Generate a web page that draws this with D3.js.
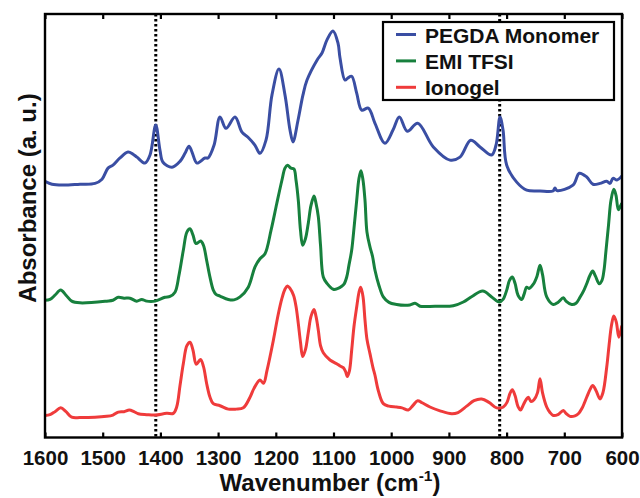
<!DOCTYPE html>
<html>
<head>
<meta charset="utf-8">
<script src="https://cdn.jsdelivr.net/npm/d3@7"></script>
<style>
  html, body { margin: 0; padding: 0; background: #fff; }
  svg { display: block; font-family: "Liberation Sans", Arial, sans-serif; }
</style>
</head>
<body>
<svg id="chart" width="640" height="498"></svg>
<script>
// FTIR spectra, stacked: [wavenumber (cm^-1), absorbance (a.u., offset included)]
const pegdaMonomer = [
  [1600,60.5],[1587.9,59.8],[1568.8,59.6],[1539.3,59.8],[1513.3,60.0],[1501.2,61.0],[1490.8,63.6],
  [1482.2,64.3],[1470.0,66.0],[1456.2,67.4],[1447.5,66.9],[1440.6,66.2],[1426.7,64.8],[1418.0,66.7],
  [1408.1,73.8],[1400.7,67.8],[1395.5,65.0],[1379.9,63.8],[1366.0,65.2],[1357.4,67.1],[1350.4,68.8],
  [1345.2,67.4],[1336.6,64.8],[1322.7,66.0],[1317.5,66.0],[1307.1,69.0],[1296.7,75.7],[1286.3,73.0],
  [1270.7,75.7],[1258.6,72.1],[1248.2,70.9],[1236.0,69.0],[1227.4,67.1],[1217.0,70.2],[1206.6,80.9],
  [1194.5,87.0],[1184.1,80.9],[1175.4,72.6],[1170.2,69.8],[1161.5,74.9],[1152.9,80.9],[1145.9,84.4],
  [1128.6,89.1],[1119.9,90.8],[1111.3,93.9],[1100.9,96.0],[1092.2,93.1],[1088.7,89.6],[1080.1,84.4],
  [1074.9,84.9],[1068.5,85.3],[1059.8,81.3],[1051.1,77.3],[1039.7,77.8],[1028.1,74.2],[1010.8,69.5],
  [996.9,72.6],[985.9,75.7],[972.1,72.3],[954.1,74.2],[927.0,68.6],[898.1,65.5],[880.8,66.2],
  [862.2,70.2],[846.1,68.6],[825.9,66.7],[818.4,69.0],[811.4,75.7],[806.2,72.6],[799.8,64.3],
  [782.5,60.3],[765.2,58.4],[742.1,58.2],[719.6,58.2],[716.1,58.9],[712.7,58.3],[685.0,59.6],
  [674.0,62.4],[661.2,61.5],[650.3,59.8],[638.1,60.0],[626.5,60.5],[620.8,60.0],[615.6,61.2],
  [608.7,60.8],[600.6,61.7]
];

const emiTfsi = [
  [1600,32.4],[1591.3,32.6],[1582.7,33.6],[1572.8,34.8],[1563.6,33.6],[1553.7,32.2],[1539.3,31.8],
  [1493.1,32.2],[1482.2,32.4],[1473.0,33.1],[1463.1,32.9],[1452.7,32.9],[1441.1,32.2],[1432.4,32.6],
  [1423.7,32.2],[1409.4,32.2],[1392.0,33.1],[1383.4,33.3],[1374.7,34.3],[1367.8,38.3],[1360.3,44.2],
  [1354.1,48.5],[1348.7,49.3],[1343.5,47.8],[1338.3,45.8],[1330.2,46.4],[1325.4,45.4],[1319.8,41.8],
  [1314.0,37.8],[1308.3,34.8],[1303.6,33.8],[1296.7,33.4],[1282.3,32.6],[1272.4,32.5],[1262.0,33.2],
  [1247.7,35.5],[1236.0,40.3],[1227.4,42.2],[1218.7,43.4],[1208.3,48.9],[1198.4,55.2],[1189.3,60.8],
  [1184.1,63.6],[1179.7,64.3],[1173.7,63.6],[1168.5,63.4],[1165.0,60.8],[1161.0,56.0],[1157.2,48.9],
  [1153.4,45.4],[1148.5,47.0],[1143.7,50.6],[1139.0,54.8],[1133.8,57.0],[1130.3,55.3],[1126.3,52.1],
  [1122.5,45.4],[1117.7,37.9],[1111.3,36.4],[1100.3,35.0],[1092.2,35.2],[1085.8,35.7],[1081.8,36.2],
  [1077.1,37.9],[1073.2,40.7],[1068.5,44.2],[1064.5,49.4],[1059.8,56.0],[1055.8,61.2],[1052.4,63.0],
  [1048.9,60.8],[1045.4,56.0],[1042.0,48.5],[1036.8,45.0],[1032.4,42.8],[1028.1,39.5],[1021.2,35.9],
  [1013.7,33.2],[1003.8,31.9],[990.5,31.4],[976.1,31.2],[967.6,31.3],[958.7,31.7],[953.5,31.3],
  [950.1,31.0],[924.1,31.0],[892.4,31.1],[875.0,32.0],[860.0,33.3],[841.4,34.6],[825.9,33.2],
  [812.6,32.0],[806.2,32.6],[799.8,34.8],[795.0,37.1],[790.1,37.9],[785.4,36.4],[780.2,33.6],
  [773.8,32.6],[769.8,33.8],[765.2,35.5],[761.2,35.2],[753.7,36.2],[747.3,38.1],[742.1,40.7],
  [737.8,38.5],[730.5,33.2],[719.1,31.4],[711.1,31.9],[701.7,33.0],[697.1,32.2],[687.2,31.4],
  [679.7,31.7],[672.8,33.1],[665.9,34.8],[661.2,36.3],[655.5,38.3],[650.8,39.3],[646.0,38.1],
  [639.4,36.3],[634.7,37.1],[631.2,39.5],[627.7,44.2],[623.4,50.1],[619.1,56.0],[614.2,58.6],
  [610.4,57.2],[606.4,53.8],[603.5,54.4],[600.6,55.2]
];

const ionogel = [
  [1600,5.2],[1591.3,5.4],[1582.7,6.1],[1572.8,7.0],[1563.6,6.1],[1553.7,4.8],[1539.3,4.7],
  [1493.1,5.0],[1482.2,5.3],[1473.0,6.0],[1463.1,6.1],[1453.9,6.5],[1445.8,6.1],[1438.3,5.6],
  [1423.7,5.4],[1409.4,5.3],[1389.1,5.7],[1377.6,5.7],[1371.8,7.2],[1366.0,12.3],[1360.3,17.4],
  [1354.1,21.7],[1348.7,22.5],[1343.5,20.6],[1337.8,17.3],[1330.5,18.4],[1325.4,16.8],[1319.8,12.7],
  [1314.0,9.5],[1308.3,8.0],[1296.7,7.5],[1282.3,6.7],[1269.0,6.7],[1256.3,7.0],[1244.7,9.5],
  [1237.8,11.6],[1227.4,13.6],[1221.3,12.8],[1215.3,15.8],[1204.3,22.9],[1196.2,28.8],[1189.3,32.9],
  [1184.1,35.0],[1179.9,35.8],[1175.4,35.2],[1169.3,33.6],[1165.0,31.0],[1161.0,26.9],[1157.2,22.5],
  [1153.4,19.1],[1148.5,20.8],[1143.7,24.8],[1139.0,28.6],[1133.8,30.2],[1130.3,28.6],[1126.3,25.3],
  [1122.5,21.7],[1117.7,20.0],[1106.1,18.3],[1094.5,17.4],[1088.7,16.9],[1083.0,16.5],[1079.2,15.6],
  [1076.1,14.4],[1072.3,15.8],[1068.5,20.6],[1064.5,26.2],[1059.8,30.8],[1055.8,34.3],[1052.8,35.5],
  [1048.9,33.3],[1045.4,27.7],[1042.0,23.2],[1036.8,19.8],[1031.6,16.5],[1028.1,14.7],[1022.4,11.1],
  [1013.7,8.0],[1003.8,7.4],[990.5,7.2],[981.3,7.0],[970.4,6.5],[962.2,7.6],[954.1,8.7],
  [946.6,8.2],[932.8,7.2],[915.4,6.3],[895.2,5.6],[884.2,5.9],[869.2,7.4],[856.5,8.7],
  [843.2,9.1],[830.5,8.3],[817.2,7.0],[805.7,7.2],[799.3,8.3],[794.1,10.4],[790.1,11.3],
  [785.4,9.9],[780.2,7.3],[775.9,6.5],[770.7,7.8],[766.4,8.9],[762.4,9.5],[757.7,8.5],
  [752.5,8.9],[746.4,10.6],[742.1,13.9],[737.8,10.6],[730.5,7.2],[724.8,5.9],[719.1,5.2],
  [711.1,5.4],[701.7,6.4],[697.1,5.7],[690.1,5.0],[681.5,5.1],[675.7,5.6],[669.3,6.9],
  [661.2,9.5],[655.5,11.3],[650.8,12.3],[645.1,11.1],[638.1,9.1],[633.0,10.6],[626.5,16.6],
  [622.5,21.7],[618.2,26.5],[614.2,28.7],[609.8,27.2],[605.5,23.7],[600.6,26.2]
];

const seriesNames = ["PEGDA Monomer", "EMI TFSI", "Ionogel"];
const seriesColors = ["#3a4ea3", "#17803d", "#ef3b3b"];
const xTicks = [1600, 1500, 1400, 1300, 1200, 1100, 1000, 900, 800, 700, 600];
const markerWavenumbers = [1408, 812];

const svg = d3.select("#chart");
const plot = { left: 45, right: 622, top: 14, bottom: 437.5 };

const x = d3.scaleLinear().domain([1600, 600]).range([plot.left, plot.right]);
const y = d3.scaleLinear().domain([0, 100]).range([plot.bottom, plot.top]);

svg.append("defs").append("clipPath").attr("id", "plot-clip")
  .append("rect")
  .attr("x", plot.left).attr("y", plot.top)
  .attr("width", plot.right - plot.left).attr("height", plot.bottom - plot.top);

// dotted reference lines
svg.append("g").selectAll("line").data(markerWavenumbers).join("line")
  .attr("x1", d => x(d)).attr("x2", d => x(d))
  .attr("y1", plot.top).attr("y2", plot.bottom)
  .attr("stroke", "#000").attr("stroke-width", 3)
  .attr("stroke-dasharray", "2.5,2.5");

// spectra
const line = d3.line()
  .x(d => x(d[0])).y(d => y(d[1]))
  .curve(d3.curveCatmullRom.alpha(0.5));

const spectra = [pegdaMonomer, emiTfsi, ionogel];
svg.append("g").attr("clip-path", "url(#plot-clip)")
  .selectAll("path").data(spectra).join("path")
  .attr("d", line)
  .attr("fill", "none")
  .attr("stroke", (d, i) => seriesColors[i])
  .attr("stroke-width", 3)
  .attr("stroke-linejoin", "round")
  .attr("stroke-linecap", "round");

// axes: ticks pointing inward on top and bottom
const bottomAxis = d3.axisBottom(x).tickValues(xTicks).tickFormat(d3.format("d"))
  .tickSizeInner(-5).tickSizeOuter(0).tickPadding(12.5);
const gb = svg.append("g").attr("transform", `translate(0,${plot.bottom})`).call(bottomAxis);
gb.select(".domain").remove();
gb.selectAll(".tick line").attr("stroke", "#000").attr("stroke-width", 2.2);
gb.selectAll(".tick text")
  .attr("font-size", 20.5).attr("font-weight", "bold").attr("fill", "#111")
  .attr("font-family", "Liberation Sans, Arial, sans-serif");

const topAxis = d3.axisTop(x).tickValues(xTicks).tickSizeInner(-5).tickSizeOuter(0).tickFormat("");
const gt = svg.append("g").attr("transform", `translate(0,${plot.top})`).call(topAxis);
gt.select(".domain").remove();
gt.selectAll(".tick line").attr("stroke", "#000").attr("stroke-width", 2.2);

// frame
svg.append("rect")
  .attr("x", plot.left).attr("y", plot.top)
  .attr("width", plot.right - plot.left).attr("height", plot.bottom - plot.top)
  .attr("fill", "none").attr("stroke", "#000").attr("stroke-width", 2.4);

// axis titles
const xTitle = svg.append("text")
  .attr("x", 330).attr("y", 491)
  .attr("text-anchor", "middle")
  .attr("font-size", 24).attr("font-weight", "bold").attr("fill", "#111");
xTitle.append("tspan").text("Wavenumber (cm");
xTitle.append("tspan").attr("font-size", 15.5).attr("dy", -10).text("-1");
xTitle.append("tspan").attr("dy", 10).text(")");

svg.append("text")
  .attr("transform", "translate(36,198) rotate(-90)")
  .attr("text-anchor", "middle")
  .attr("font-size", 24).attr("font-weight", "bold").attr("fill", "#111")
  .text("Absorbance (a. u.)");

// legend
const legend = svg.append("g");
legend.append("rect")
  .attr("x", 383).attr("y", 22).attr("width", 231).attr("height", 78)
  .attr("fill", "#fff").attr("stroke", "#000").attr("stroke-width", 2.2);
const rows = legend.selectAll("g.row").data(seriesNames).join("g")
  .attr("class", "row")
  .attr("transform", (d, i) => `translate(0,${34.5 + i * 26.4})`);
rows.append("line")
  .attr("x1", 396).attr("x2", 416).attr("y1", 0).attr("y2", 0)
  .attr("stroke", (d, i) => seriesColors[i]).attr("stroke-width", 3);
rows.append("text")
  .attr("x", 425).attr("y", 8)
  .attr("font-size", 21).attr("font-weight", "bold").attr("fill", "#111")
  .text(d => d);
</script>
</body>
</html>
